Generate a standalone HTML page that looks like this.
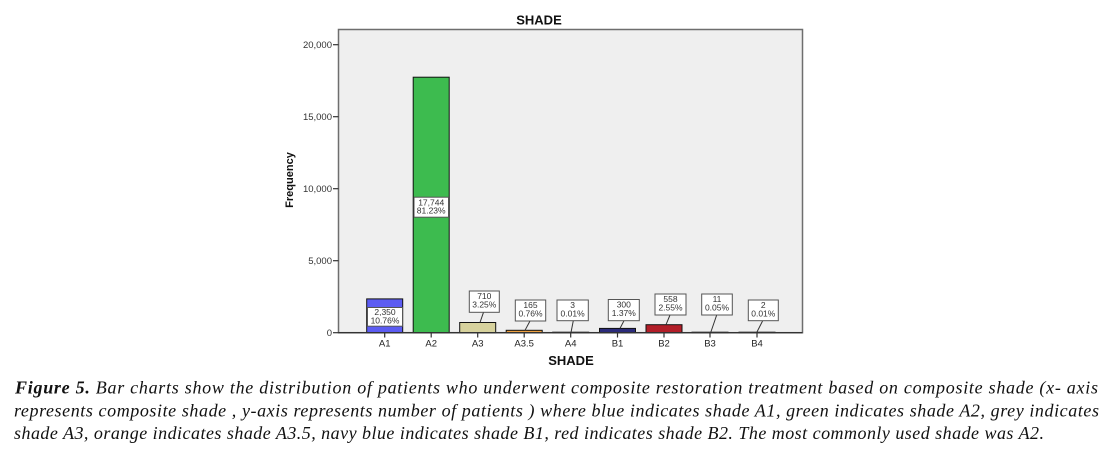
<!DOCTYPE html>
<html><head><meta charset="utf-8"><style>
html,body{margin:0;padding:0;background:#fff;}
svg{display:block;}
</style></head><body>
<svg width="1109" height="454" viewBox="0 0 1109 454" xmlns="http://www.w3.org/2000/svg" font-family="Liberation Sans, sans-serif">
<rect x="0" y="0" width="1109" height="454" fill="#fff"/>
<!-- title -->
<text x="539" y="24.5" font-size="13" font-weight="bold" text-anchor="middle" fill="#111">SHADE</text>
<!-- plot area -->
<rect x="338.5" y="29.5" width="464" height="303.2" fill="#efefef" stroke="#6e6e6e" stroke-width="1.5"/>
<!-- y ticks -->
<g stroke="#333" stroke-width="1.2">
<line x1="333" y1="44.7" x2="338.5" y2="44.7"/>
<line x1="333" y1="116.7" x2="338.5" y2="116.7"/>
<line x1="333" y1="188.7" x2="338.5" y2="188.7"/>
<line x1="333" y1="260.7" x2="338.5" y2="260.7"/>
<line x1="333" y1="332.7" x2="338.5" y2="332.7"/>
</g>
<g font-size="9.5" fill="#333" text-anchor="end">
<text x="332" y="48">20,000</text>
<text x="332" y="120">15,000</text>
<text x="332" y="192">10,000</text>
<text x="332" y="264">5,000</text>
<text x="332" y="336">0</text>
</g>
<text transform="translate(293,180) rotate(-90)" font-size="11" font-weight="bold" text-anchor="middle" fill="#111">Frequency</text>
<!-- bars -->
<g stroke="#111" stroke-width="1">
<rect x="366.7" y="298.9" width="36" height="33.8" fill="#5c5cf2"/>
<rect x="413.2" y="77.2" width="36" height="255.5" fill="#3dbb4f"/>
<rect x="459.7" y="322.5" width="36" height="10.2" fill="#d7d29d"/>
<rect x="506.2" y="330.3" width="36" height="2.4" fill="#eea040"/>
<rect x="552.7" y="332.2" width="36" height="0.5" fill="#eee"/>
<rect x="599.5" y="328.4" width="36" height="4.3" fill="#2b2b7a"/>
<rect x="646" y="324.7" width="36" height="8" fill="#b21e28"/>
<rect x="692" y="332.2" width="36" height="0.5" fill="#ccc"/>
<rect x="739" y="332.2" width="36" height="0.5" fill="#ccc"/>
</g>
<!-- x axis line -->
<line x1="338.5" y1="332.7" x2="802.5" y2="332.7" stroke="#333" stroke-width="1.3"/>
<!-- x ticks -->
<g stroke="#333" stroke-width="1.2">
<line x1="384.7" y1="332.7" x2="384.7" y2="337.5"/>
<line x1="431.2" y1="332.7" x2="431.2" y2="337.5"/>
<line x1="477.7" y1="332.7" x2="477.7" y2="337.5"/>
<line x1="524.2" y1="332.7" x2="524.2" y2="337.5"/>
<line x1="570.7" y1="332.7" x2="570.7" y2="337.5"/>
<line x1="617.5" y1="332.7" x2="617.5" y2="337.5"/>
<line x1="664" y1="332.7" x2="664" y2="337.5"/>
<line x1="710" y1="332.7" x2="710" y2="337.5"/>
<line x1="757" y1="332.7" x2="757" y2="337.5"/>
</g>
<g font-size="9.5" fill="#222" text-anchor="middle">
<text x="384.7" y="346.5">A1</text>
<text x="431.2" y="346.5">A2</text>
<text x="477.7" y="346.5">A3</text>
<text x="524.2" y="346.5">A3.5</text>
<text x="570.7" y="346.5">A4</text>
<text x="617.5" y="346.5">B1</text>
<text x="664" y="346.5">B2</text>
<text x="710" y="346.5">B3</text>
<text x="757" y="346.5">B4</text>
</g>
<text x="571" y="365" font-size="13" font-weight="bold" text-anchor="middle" fill="#111">SHADE</text>
<!-- leader lines -->
<g stroke="#333" stroke-width="1">
<line x1="483.5" y1="312.3" x2="480" y2="322.5"/>
<line x1="530" y1="321" x2="525" y2="330.3"/>
<line x1="573.3" y1="320.7" x2="571" y2="332.5"/>
<line x1="624" y1="320.7" x2="620" y2="328.4"/>
<line x1="670" y1="315" x2="666" y2="324.7"/>
<line x1="716.7" y1="315" x2="710.7" y2="332.5"/>
<line x1="762.7" y1="320.7" x2="756.7" y2="332.5"/>
</g>
<!-- label boxes -->
<g fill="#fff" stroke="#555" stroke-width="1">
<rect x="367.5" y="307.5" width="35" height="18.7"/>
<rect x="414" y="197.2" width="34.5" height="20"/>
<rect x="469.3" y="291" width="30" height="21.3"/>
<rect x="515.3" y="300" width="30.4" height="21"/>
<rect x="557" y="300" width="31.3" height="20.7"/>
<rect x="608.3" y="299.5" width="31" height="21.2"/>
<rect x="655" y="294" width="31" height="21"/>
<rect x="701.7" y="294" width="30.6" height="21"/>
<rect x="748.3" y="300" width="30" height="20.7"/>
</g>
<g font-size="8.5" fill="#333" text-anchor="middle">
<text x="385" y="315">2,350</text><text x="385" y="323.3">10.76%</text>
<text x="431.2" y="205.3">17,744</text><text x="431.2" y="213.5">81.23%</text>
<text x="484.3" y="299">710</text><text x="484.3" y="307.3">3.25%</text>
<text x="530.5" y="308">165</text><text x="530.5" y="316.3">0.76%</text>
<text x="572.6" y="308">3</text><text x="572.6" y="316.3">0.01%</text>
<text x="623.8" y="307.5">300</text><text x="623.8" y="315.8">1.37%</text>
<text x="670.5" y="302">558</text><text x="670.5" y="310.3">2.55%</text>
<text x="717" y="302">11</text><text x="717" y="310.3">0.05%</text>
<text x="763.3" y="308">2</text><text x="763.3" y="316.3">0.01%</text>
</g>
<!-- caption -->
<g font-family="Liberation Serif, serif" font-size="18" font-style="italic" fill="#111">
<text x="15" y="393.3" textLength="1083" lengthAdjust="spacing"><tspan font-weight="bold">Figure 5.</tspan> Bar charts show the distribution of patients who underwent composite restoration treatment based on composite shade (x- axis</text>
<text x="14" y="416.5" textLength="1085" lengthAdjust="spacing">represents composite shade , y-axis represents number of patients ) where blue indicates shade A1, green indicates shade A2, grey indicates</text>
<text x="14" y="439" textLength="1030" lengthAdjust="spacing">shade A3, orange indicates shade A3.5, navy blue indicates shade B1, red indicates shade B2. The most commonly used shade was A2.</text>
</g>
</svg>
</body></html>
